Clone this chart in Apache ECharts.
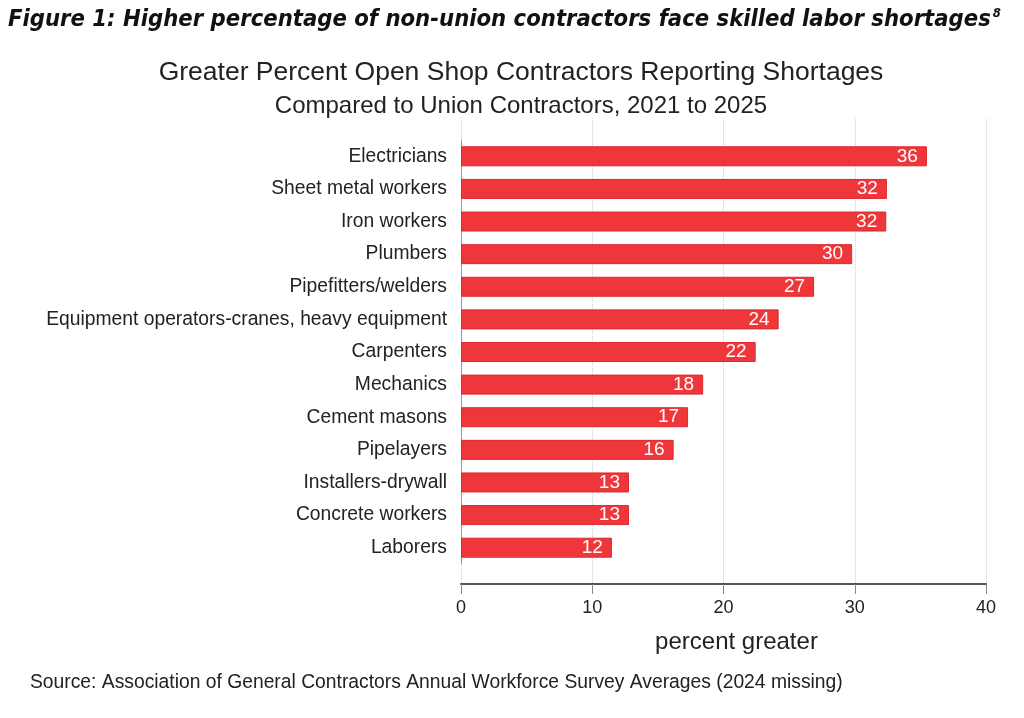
<!DOCTYPE html>
<html>
<head>
<meta charset="utf-8">
<script src="https://cdn.jsdelivr.net/npm/echarts@6/dist/echarts.min.js"></script>
<style>
  html, body { margin: 0; padding: 0; background: #fff; }
  #main { width: 1024px; height: 718px; }
</style>
</head>
<body>
<div id="main"></div>
<script>
/* Bar chart - shortages */
var trades = [
  'Electricians',
  'Sheet metal workers',
  'Iron workers',
  'Plumbers',
  'Pipefitters/welders',
  'Equipment operators-cranes, heavy equipment',
  'Carpenters',
  'Mechanics',
  'Cement masons',
  'Pipelayers',
  'Installers-drywall',
  'Concrete workers',
  'Laborers'
];
var percentGreater = [35.5, 32.45, 32.4, 29.8, 26.9, 24.2, 22.45, 18.45, 17.3, 16.2, 12.8, 12.8, 11.5];
var xTicks = [0, 10, 20, 30, 40];

var chartDom = document.getElementById('main');
var myChart = echarts.init(chartDom);
var chart1;

var font = 'Liberation Sans, Arial, sans-serif';
var figFont = 'DejaVu Sans Condensed, DejaVu Sans, sans-serif';

chart1 = {
  backgroundColor: '#fff',
  textStyle: { fontFamily: font },
  title: [
    {
      text: '{t|Figure 1: Higher percentage of non-union contractors face skilled labor shortages}{s|8}',
      left: 3,
      top: 2,
      textStyle: {
        rich: {
          t: { fontFamily: figFont, fontWeight: 'bold', fontStyle: 'italic', fontSize: 23.6, color: '#111' },
          s: { fontFamily: figFont, fontWeight: 'bold', fontStyle: 'italic', fontSize: 13, color: '#111',
               verticalAlign: 'top', padding: [0, 0, 12, 2] }
        }
      }
    },
    {
      text: 'Greater Percent Open Shop Contractors Reporting Shortages',
      left: 516,
      textAlign: 'center',
      top: 54,
      textStyle: { fontFamily: font, fontSize: 26.5, fontWeight: 'normal', color: '#222' }
    },
    {
      text: 'Compared to Union Contractors, 2021 to 2025',
      left: 516,
      textAlign: 'center',
      top: 89,
      textStyle: { fontFamily: font, fontSize: 24, fontWeight: 'normal', color: '#222' }
    },
    {
      text: 'Source: Association of General Contractors Annual Workforce Survey Averages (2024 missing)',
      left: 25,
      top: 668,
      textStyle: { fontFamily: font, fontSize: 19.3, fontWeight: 'normal', color: '#222' }
    }
  ],
  grid: [
    { left: 461, right: 38, top: 140, bottom: 154 },
    { left: 461, right: 38, top: 118, bottom: 134 }
  ],
  xAxis: [
    {
      gridIndex: 0,
      type: 'value',
      min: 0,
      max: 40,
      interval: 10,
      show: false
    },
    {
      gridIndex: 1,
      type: 'value',
      min: 0,
      max: 40,
      interval: 10,
      name: 'percent greater',
      nameLocation: 'middle',
      nameGap: 46,
      nameTextStyle: { fontFamily: font, fontSize: 24, color: '#222', padding: [0, 0, 0, 26] },
      axisLine: { show: true, lineStyle: { color: '#555', width: 2 } },
      axisTick: { show: true, length: 10, lineStyle: { color: '#888' } },
      axisLabel: {
        fontFamily: font,
        fontSize: 18,
        color: '#222',
        margin: 15,
        formatter: function (v) { return xTicks.indexOf(v) >= 0 ? v : ''; }
      },
      splitLine: { show: true, lineStyle: { color: '#cfcfcf', type: 'dotted', width: 1 } }
    }
  ],
  yAxis: [
    {
      gridIndex: 0,
      type: 'category',
      inverse: true,
      data: trades,
      axisLine: { show: true, lineStyle: { color: '#999', width: 1 } },
      axisTick: { show: false },
      axisLabel: { fontFamily: font, fontSize: 19.3, color: '#222', margin: 14 }
    },
    {
      gridIndex: 1,
      type: 'value',
      min: 0,
      max: 1,
      show: false
    }
  ],
  series: [
    {
      name: 'percent greater',
      type: 'bar',
      xAxisIndex: 0,
      yAxisIndex: 0,
      barWidth: 20,
      data: percentGreater,
      itemStyle: { color: '#EE363B', borderColor: '#D82A2F', borderWidth: 1 },
      label: {
        show: true,
        position: 'insideRight',
        distance: 9,
        color: '#fff',
        fontFamily: font,
        fontSize: 19,
        formatter: function (p) { return Math.round(p.value); }
      },
      z: 3
    }
  ]
};

chart1 && myChart.setOption(chart1);

window.onresize = function() {
    myChart.resize();
};
</script>
</body>
</html>
